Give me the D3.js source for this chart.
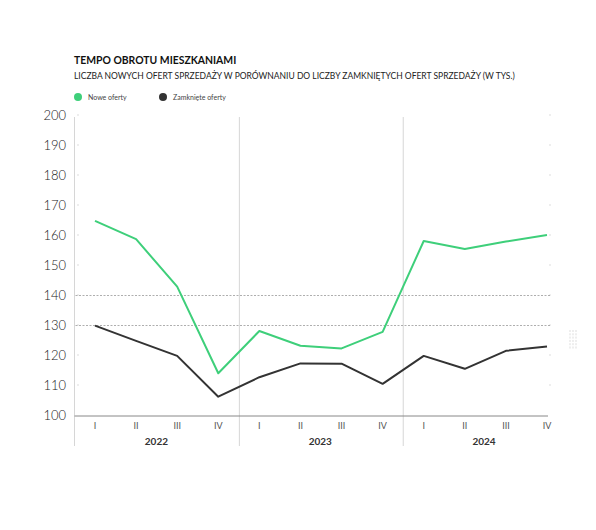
<!DOCTYPE html>
<html><head><meta charset="utf-8">
<script src="https://cdn.jsdelivr.net/npm/d3@7"></script>
<style>body{margin:0;background:#fff;} svg{display:block;font-family:Lato, "Open Sans", sans-serif;}</style>
</head><body>
<svg id="c" width="596" height="530"></svg>
<script>
const years = ["2022","2023","2024"];
const quarters = ["I","II","III","IV"];
const categories = ["2022-I","2022-II","2022-III","2022-IV","2023-I","2023-II","2023-III","2023-IV","2024-I","2024-II","2024-III","2024-IV"];
const noweOferty = [164.7,158.6,142.8,113.9,128.0,123.1,122.2,127.7,158.0,155.3,157.8,160.0];
const zamknieteOferty = [129.8,124.7,119.7,106.1,112.6,117.2,117.1,110.4,119.7,115.4,121.4,122.8];
const yTicks = [100,110,120,130,140,150,160,170,180,190,200];
const dashedTicks = [130,140];

(function(){
const svg = d3.select("#c");
const pLeft = 74.5, pTop = 115, pBottom = 415;
const y = d3.scaleLinear().domain([100,200]).range([pBottom, pTop]);
const x = d3.scalePoint().domain(categories).range([95, 547]);
const yearBand = d3.scaleBand().domain(years).range([pLeft, 566]);

svg.append("text").attr("x",74).attr("y",64).attr("font-size",10.4).attr("font-weight",700).attr("fill","#111").text("TEMPO OBROTU MIESZKANIAMI");
svg.append("text").attr("x",74).attr("y",79).attr("font-size",8.5).attr("fill","#222").text("LICZBA NOWYCH OFERT SPRZEDAŻY W PORÓWNANIU DO LICZBY ZAMKNIĘTYCH OFERT SPRZEDAŻY (W TYS.)");

const legend = [["Nowe oferty","#3ecf7a",78],["Zamknięte oferty","#333333",163]];
legend.forEach(([t,c,lx])=>{
  svg.append("circle").attr("cx",lx).attr("cy",97).attr("r",4).attr("fill",c);
  svg.append("text").attr("x",lx+10).attr("y",99.5).attr("font-size",7).attr("fill","#444").text(t);
});

const seps = [pLeft, x("2023-I")-20, x("2024-I")-20.5];
seps.forEach(sx=>{
  svg.append("line").attr("x1",sx).attr("x2",sx).attr("y1",117).attr("y2",446).attr("stroke","#d6d6d6").attr("stroke-width",1);
});

svg.append("g").selectAll("text").data(yTicks).join("text")
  .attr("x",66).attr("y",d=>y(d)+4.5).attr("text-anchor","end").attr("font-size",13).attr("font-weight",300).attr("fill","#222").text(d=>d);

const dotG = svg.append("g");
yTicks.filter(d=>d>100).forEach(d=>{
  dotG.append("rect").attr("x",77.5).attr("y",y(d)-0.5).attr("width",1).attr("height",1).attr("fill","#bbb");
  dotG.append("rect").attr("x",549.5).attr("y",y(d)-0.5).attr("width",1).attr("height",1).attr("fill","#bbb");
});

svg.append("g").selectAll("line").data(dashedTicks).join("line")
  .attr("x1",pLeft+1).attr("x2",550).attr("y1",d=>y(d)+0.5).attr("y2",d=>y(d)+0.5)
  .attr("stroke","#999").attr("stroke-width",0.8).attr("stroke-dasharray","2,1.5");

svg.append("line").attr("x1",pLeft).attr("x2",548).attr("y1",pBottom+1).attr("y2",pBottom+1).attr("stroke","#888").attr("stroke-width",1);

const line = d3.line().x((d,i)=>x(categories[i])).y(d=>y(d));
svg.append("path").datum(zamknieteOferty).attr("d",line).attr("fill","none").attr("stroke","#333333").attr("stroke-width",2).attr("stroke-linejoin","round");
svg.append("path").datum(noweOferty).attr("d",line).attr("fill","none").attr("stroke","#3ecf7a").attr("stroke-width",2).attr("stroke-linejoin","round");

svg.append("g").selectAll("text").data(categories).join("text")
  .attr("x",d=>x(d)).attr("y",429).attr("text-anchor","middle").attr("font-size",9).attr("fill","#555")
  .text(d=>d.split("-")[1]);

svg.append("g").selectAll("text").data(years).join("text")
  .attr("x",d=>yearBand(d)+yearBand.bandwidth()/2).attr("y",445).attr("text-anchor","middle")
  .attr("font-size",10).attr("font-weight",700).attr("fill","#333").text(d=>d);

const ic = svg.append("g").attr("fill","#eeeeee");
for(let r=0;r<6;r++) for(let c=0;c<3;c++){
  ic.append("rect").attr("x",569+c*3).attr("y",330+r*3.3).attr("width",2).attr("height",2);
}
})();
</script>
</body></html>
